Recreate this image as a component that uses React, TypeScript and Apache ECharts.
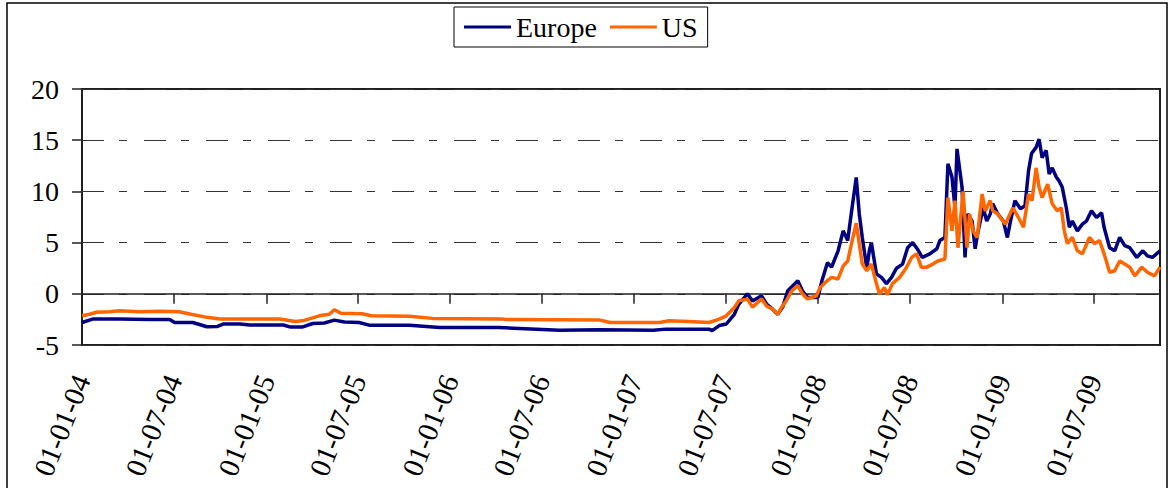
import React, { useEffect, useRef } from "react";
import * as echarts from "echarts";

const SERIES_NAMES = ["Europe", "US"];

const EUROPE: [string, number][] = [
  ["2004-01-01", -2.8], ["2004-01-22", -2.47], ["2004-03-15", -2.45], ["2004-05-14", -2.5],
  ["2004-06-23", -2.5], ["2004-07-03", -2.8], ["2004-08-08", -2.8], ["2004-09-05", -3.22],
  ["2004-09-25", -3.2], ["2004-10-07", -2.96], ["2004-11-10", -2.96], ["2004-11-29", -3.05],
  ["2005-02-04", -3.05], ["2005-02-18", -3.25], ["2005-03-13", -3.25], ["2005-04-03", -2.9],
  ["2005-04-26", -2.85], ["2005-05-16", -2.57], ["2005-06-05", -2.75], ["2005-07-04", -2.8],
  ["2005-07-24", -3.06], ["2005-10-12", -3.06], ["2005-12-11", -3.29], ["2006-04-08", -3.3],
  ["2006-08-06", -3.55], ["2006-10-24", -3.5], ["2007-02-08", -3.55], ["2007-03-05", -3.45],
  ["2007-05-30", -3.45], ["2007-06-05", -3.6], ["2007-06-19", -3.1], ["2007-07-03", -2.95],
  ["2007-07-19", -2.0], ["2007-07-28", -1.0], ["2007-08-14", 0.0], ["2007-08-24", -0.7],
  ["2007-09-11", -0.2], ["2007-09-21", -1.0], ["2007-10-03", -1.5], ["2007-10-13", -2.0],
  ["2007-10-23", -1.3], ["2007-11-02", 0.3], ["2007-11-22", 1.27], ["2007-12-01", 0.3],
  ["2007-12-11", -0.35], ["2008-01-01", -0.35], ["2008-01-09", 1.3], ["2008-01-20", 3.05],
  ["2008-01-28", 2.6], ["2008-02-10", 4.2], ["2008-02-20", 6.15], ["2008-02-29", 5.2],
  ["2008-03-07", 7.8], ["2008-03-17", 11.36], ["2008-03-23", 7.8], ["2008-03-29", 5.5],
  ["2008-04-07", 2.5], ["2008-04-12", 4.2], ["2008-04-16", 5.0], ["2008-04-26", 1.95],
  ["2008-05-06", 1.6], ["2008-05-16", 1.0], ["2008-05-26", 1.6], ["2008-06-05", 2.5],
  ["2008-06-17", 2.9], ["2008-06-27", 4.5], ["2008-07-07", 5.0], ["2008-07-16", 4.4],
  ["2008-07-26", 3.55], ["2008-08-10", 3.9], ["2008-08-24", 4.4], ["2008-08-30", 5.2],
  ["2008-09-09", 5.5], ["2008-09-15", 12.7], ["2008-09-23", 11.4], ["2008-09-29", 8.4],
  ["2008-10-03", 14.15], ["2008-10-13", 10.4], ["2008-10-19", 3.55], ["2008-10-24", 7.8],
  ["2008-11-02", 7.1], ["2008-11-08", 4.4], ["2008-11-14", 6.15], ["2008-11-24", 8.4],
  ["2008-12-01", 7.1], ["2008-12-08", 7.8], ["2008-12-13", 8.8], ["2008-12-23", 7.8],
  ["2009-01-03", 7.1], ["2009-01-11", 5.5], ["2009-01-16", 6.8], ["2009-01-26", 9.1],
  ["2009-02-06", 8.3], ["2009-02-15", 8.6], ["2009-02-22", 12.0], ["2009-02-28", 13.7],
  ["2009-03-09", 14.3], ["2009-03-15", 15.1], ["2009-03-21", 13.3], ["2009-03-29", 14.0],
  ["2009-04-04", 11.7], ["2009-04-10", 12.3], ["2009-04-18", 11.4], ["2009-04-24", 11.0],
  ["2009-04-30", 10.4], ["2009-05-08", 8.4], ["2009-05-14", 6.5], ["2009-05-20", 7.1],
  ["2009-05-30", 6.15], ["2009-06-09", 6.8], ["2009-06-17", 7.1], ["2009-06-27", 8.1],
  ["2009-07-07", 7.45], ["2009-07-17", 7.9], ["2009-07-22", 6.5], ["2009-08-02", 4.5],
  ["2009-08-12", 4.2], ["2009-08-22", 5.5], ["2009-09-01", 4.7], ["2009-09-11", 4.5],
  ["2009-09-25", 3.55], ["2009-10-07", 4.2], ["2009-10-16", 3.7], ["2009-10-26", 3.55],
  ["2009-11-10", 4.2],
];

const US: [string, number][] = [
  ["2004-01-01", -2.15], ["2004-01-16", -2.0], ["2004-01-30", -1.8], ["2004-02-25", -1.75],
  ["2004-03-15", -1.66], ["2004-04-24", -1.75], ["2004-06-03", -1.7], ["2004-07-12", -1.75],
  ["2004-08-02", -1.98], ["2004-09-05", -2.3], ["2004-10-01", -2.47], ["2004-11-29", -2.47],
  ["2005-01-28", -2.47], ["2005-02-27", -2.7], ["2005-03-17", -2.6], ["2005-04-16", -2.15],
  ["2005-05-06", -2.0], ["2005-05-16", -1.55], ["2005-05-29", -1.9], ["2005-07-10", -1.95],
  ["2005-07-28", -2.15], ["2005-10-12", -2.2], ["2005-11-27", -2.4], ["2006-04-14", -2.45],
  ["2006-04-22", -2.5], ["2006-10-24", -2.55], ["2006-11-14", -2.8], ["2007-02-21", -2.8],
  ["2007-03-11", -2.63], ["2007-04-20", -2.7], ["2007-05-30", -2.8], ["2007-06-19", -2.47],
  ["2007-07-03", -2.15], ["2007-07-19", -1.33], ["2007-07-28", -0.68], ["2007-08-14", -0.52],
  ["2007-08-24", -1.3], ["2007-09-11", -0.5], ["2007-09-21", -1.2], ["2007-10-03", -1.5],
  ["2007-10-13", -2.0], ["2007-10-21", -1.3], ["2007-10-30", -0.7], ["2007-11-10", 0.3],
  ["2007-11-22", 0.8], ["2007-12-01", 0.0], ["2007-12-11", -0.5], ["2007-12-29", -0.2],
  ["2008-01-05", 0.6], ["2008-01-19", 1.27], ["2008-01-28", 1.6], ["2008-02-10", 1.45],
  ["2008-02-20", 2.7], ["2008-02-29", 3.2], ["2008-03-09", 5.2], ["2008-03-17", 6.9],
  ["2008-03-23", 4.9], ["2008-03-29", 2.9], ["2008-04-07", 2.25], ["2008-04-16", 2.9],
  ["2008-04-26", 1.0], ["2008-05-02", 0.0], ["2008-05-12", 0.6], ["2008-05-18", -0.1],
  ["2008-05-28", 1.0], ["2008-06-11", 1.6], ["2008-06-25", 2.6], ["2008-07-05", 3.55],
  ["2008-07-15", 3.9], ["2008-07-24", 2.6], ["2008-08-04", 2.6], ["2008-08-16", 2.9],
  ["2008-08-26", 3.2], ["2008-09-09", 3.4], ["2008-09-15", 9.4], ["2008-09-23", 6.15],
  ["2008-09-29", 9.1], ["2008-10-05", 4.5], ["2008-10-15", 10.0], ["2008-10-23", 4.5],
  ["2008-10-28", 7.8], ["2008-11-04", 6.15], ["2008-11-12", 5.5], ["2008-11-22", 9.75],
  ["2008-11-28", 8.1], ["2008-12-08", 9.1], ["2008-12-13", 8.1], ["2008-12-23", 7.8],
  ["2009-01-07", 6.8], ["2009-01-13", 7.45], ["2009-01-22", 8.4], ["2009-02-02", 7.45],
  ["2009-02-12", 6.5], ["2009-02-22", 9.75], ["2009-03-01", 9.1], ["2009-03-09", 12.3],
  ["2009-03-15", 10.4], ["2009-03-21", 9.4], ["2009-04-01", 10.7], ["2009-04-10", 8.8],
  ["2009-04-20", 8.1], ["2009-04-28", 8.4], ["2009-05-04", 6.15], ["2009-05-10", 4.9],
  ["2009-05-20", 5.5], ["2009-05-30", 4.2], ["2009-06-09", 3.9], ["2009-06-23", 5.5],
  ["2009-07-03", 4.9], ["2009-07-13", 5.2], ["2009-07-22", 3.9], ["2009-08-02", 2.1],
  ["2009-08-12", 2.25], ["2009-08-22", 3.2], ["2009-09-01", 2.9], ["2009-09-11", 2.6],
  ["2009-09-21", 1.75], ["2009-10-05", 2.6], ["2009-10-16", 2.1], ["2009-10-30", 1.75],
  ["2009-11-10", 2.6],
];

const X_MIN = "2004-01-01";
const X_MAX = "2009-11-10";
const X_TICK_DATES = [
  "2004-01-01", "2004-07-01", "2005-01-01", "2005-07-01", "2006-01-01", "2006-07-01",
  "2007-01-01", "2007-07-01", "2008-01-01", "2008-07-01", "2009-01-01", "2009-07-01",
];
const Y_MIN = -5;
const Y_MAX = 20;
const Y_STEP = 5;

const FONT = "Liberation Serif";

function toTime(s: string): number {
  const [y, m, d] = s.split("-").map(Number);
  return new Date(y, m - 1, d).getTime();
}
function pad(n: number): string {
  return n < 10 ? "0" + n : String(n);
}
function fmtDate(v: number): string {
  const d = new Date(v);
  return `${pad(d.getDate())}-${pad(d.getMonth() + 1)}-${pad(d.getFullYear() % 100)}`;
}

export default function App() {
  const ref = useRef<HTMLDivElement>(null);
  useEffect(() => {
    if (!ref.current) return;
    const chart = echarts.init(ref.current, null, { renderer: "svg" });
    const tickValues = X_TICK_DATES.map(toTime);
    const xMin = toTime(X_MIN);
    const xMax = toTime(X_MAX);
    const toPoints = (rows: [string, number][]) => rows.map(([d, v]) => [toTime(d), v]);
    chart.setOption({
      animation: false,
      backgroundColor: "#ffffff",
      textStyle: { fontFamily: FONT, color: "#000" },
      graphic: [
        {
          type: "rect",
          shape: { x: 7, y: 3, width: 1160, height: 520 },
          style: { fill: "none", stroke: "#000", lineWidth: 1.5 },
          silent: true,
        },
      ],
      legend: {
        data: SERIES_NAMES,
        left: 454,
        top: 7,
        padding: [6, 10, 6, 10],
        borderColor: "#000",
        borderWidth: 1,
        itemWidth: 47,
        itemHeight: 3,
        itemGap: 13,
        icon: "rect",
        textStyle: { fontFamily: FONT, fontSize: 28, color: "#000" },
      },
      grid: {
        left: 82,
        right: 10,
        top: 89,
        bottom: 143,
        show: true,
        borderColor: "#202020",
        borderWidth: 2,
        backgroundColor: "transparent",
      },
      xAxis: [
        {
          type: "value",
          min: xMin,
          max: xMax,
          position: "bottom",
          axisLine: { show: false, onZero: false },
          axisTick: { show: false },
          splitLine: { show: false },
          axisLabel: {
            customValues: tickValues,
            formatter: (v: number) => fmtDate(v),
            rotate: 68,
            margin: 31,
            fontSize: 29,
            fontFamily: FONT,
            color: "#000",
          },
        },
        {
          type: "value",
          min: xMin,
          max: xMax,
          position: "bottom",
          axisLine: { show: true, onZero: true, lineStyle: { color: "#202020", width: 1.5 } },
          axisTick: {
            show: true,
            customValues: tickValues,
            length: 10,
            inside: false,
            lineStyle: { color: "#202020", width: 1.5 },
          },
          axisLabel: { show: false, customValues: tickValues },
          splitLine: { show: false },
        },
      ],
      yAxis: {
        type: "value",
        min: Y_MIN,
        max: Y_MAX,
        interval: Y_STEP,
        axisLine: { show: false },
        axisTick: { show: true, length: 10, lineStyle: { color: "#202020", width: 1.5 } },
        axisLabel: { margin: 23, fontSize: 28, fontFamily: FONT, color: "#000" },
        splitLine: {
          show: true,
          lineStyle: { color: "#333", width: 1.2, type: [22, 15, 8, 17] },
        },
      },
      series: [
        {
          name: "Europe",
          type: "line",
          xAxisIndex: 0,
          data: toPoints(EUROPE),
          showSymbol: false,
          symbol: "none",
          lineStyle: { color: "#000080", width: 3.5 },
          itemStyle: { color: "#000080" },
          z: 3,
        },
        {
          name: "US",
          type: "line",
          xAxisIndex: 0,
          data: toPoints(US),
          showSymbol: false,
          symbol: "none",
          lineStyle: { color: "#FF6600", width: 3.5 },
          itemStyle: { color: "#FF6600" },
          z: 4,
        },
      ],
    });
    return () => chart.dispose();
  }, []);
  return (
    <div
      ref={ref}
      style={{ position: "absolute", left: 0, top: 0, width: 1170, height: 488 }}
    />
  );
}
